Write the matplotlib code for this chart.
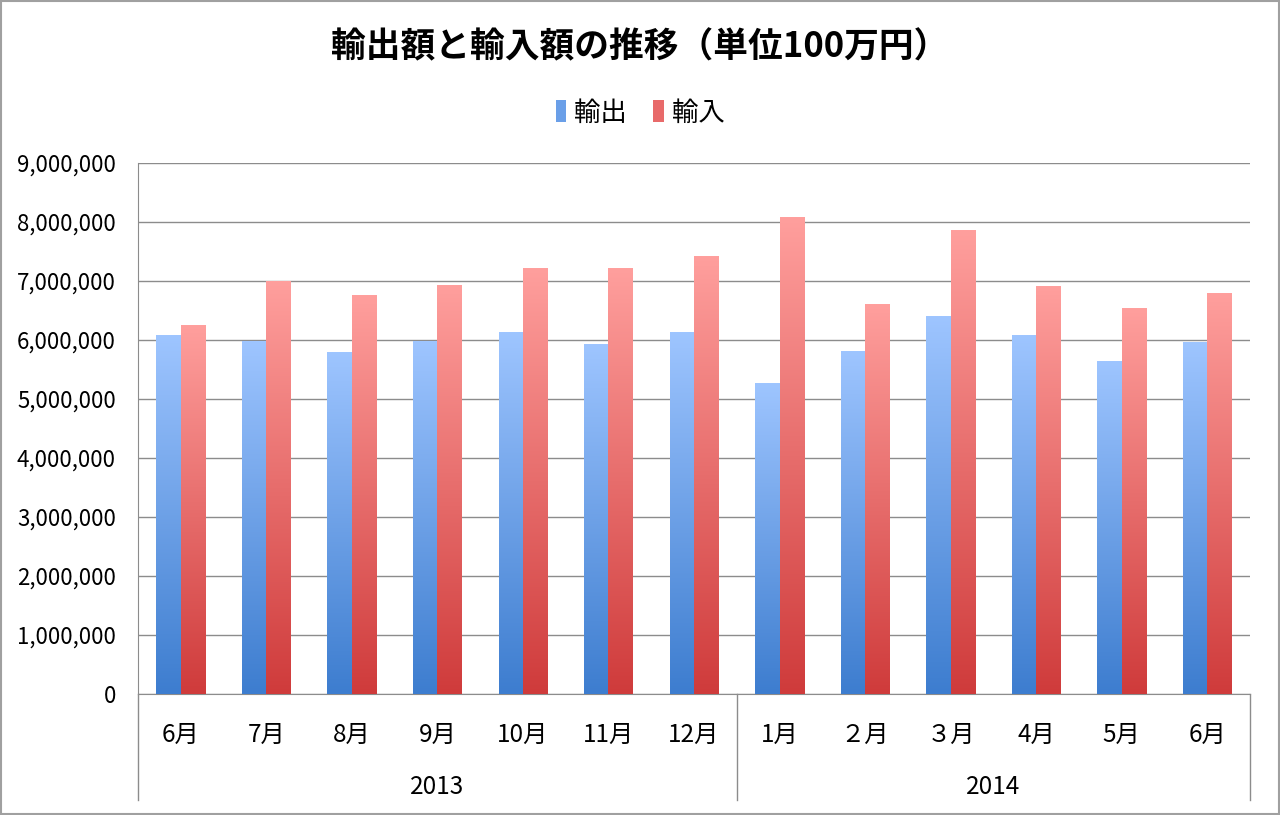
import matplotlib
matplotlib.use("Agg")
import matplotlib.pyplot as plt
import numpy as np
from matplotlib.colors import LinearSegmentedColormap
from matplotlib.patches import Patch, Rectangle
from matplotlib.lines import Line2D
from matplotlib.ticker import FuncFormatter

plt.rcParams['font.family'] = ['Noto Sans CJK JP', 'DejaVu Sans']

months = ['6月', '7月', '8月', '9月', '10月', '11月', '12月',
          '1月', '２月', '３月', '4月', '5月', '6月']
years = ['2013', '2014']
year_counts = [7, 6]
exports = [6070000, 5970000, 5780000, 5980000, 6120000, 5920000, 6120000,
           5270000, 5810000, 6390000, 6070000, 5630000, 5950000]
imports = [6250000, 7000000, 6760000, 6930000, 7220000, 7220000, 7420000,
           8070000, 6610000, 7850000, 6900000, 6540000, 6780000]
series_names = ['輸出', '輸入']

blue_cmap = LinearSegmentedColormap.from_list('b', ['#3D7DCF', '#9EC5FF'])
red_cmap = LinearSegmentedColormap.from_list('r', ['#CF3B3B', '#FF9F9D'])

fig = plt.figure(figsize=(12.8, 8.15), dpi=100)
ax = fig.add_axes([138/1280, 1-694/815, (1250-138)/1280, (694-163)/815])

x = np.arange(len(months))
w = 0.285
bars_e = ax.bar(x - w/2, exports, w, facecolor='none', edgecolor='none')
bars_i = ax.bar(x + w/2, imports, w, facecolor='none', edgecolor='none')

grad = np.linspace(0, 1, 256).reshape(-1, 1)
for bars, cmap in ((bars_e, blue_cmap), (bars_i, red_cmap)):
    for b in bars:
        x0 = b.get_x(); x1 = x0 + b.get_width(); h = b.get_height()
        ax.imshow(grad, extent=[x0, x1, 0, h], aspect='auto', cmap=cmap,
                  origin='lower', zorder=3, interpolation='bilinear')

ax.set_xlim(-0.5, len(months) - 0.5)
ax.set_ylim(0, 9000000)
ax.set_yticks(np.arange(0, 9000001, 1000000))
ax.yaxis.set_major_formatter(FuncFormatter(lambda v, p: f'{int(v):,}'))
ax.tick_params(axis='y', length=0, labelsize=16, pad=16)
ax.set_xticks(x)
ax.set_xticklabels(months)
ax.tick_params(axis='x', length=0, labelsize=17.5, pad=20)
ax.grid(axis='y', color='#8C8C8C', linewidth=1.0, zorder=0)
ax.set_axisbelow(True)
for s in ['top', 'right']:
    ax.spines[s].set_visible(False)
ax.spines['left'].set_color('#8C8C8C')
ax.spines['bottom'].set_color('#8C8C8C')

# hierarchical category axis
trans = ax.get_xaxis_transform()
bounds = [-0.5]
for c in year_counts:
    bounds.append(bounds[-1] + c)
for bx in bounds:
    ax.add_line(Line2D([bx, bx], [0, -106/531], transform=trans,
                       color='#8C8C8C', linewidth=1.0, clip_on=False))
start = -0.5
for yr, c in zip(years, year_counts):
    ax.text(start + c/2, -93/531, yr, transform=trans, ha='center',
            va='center', fontsize=17.5)
    start += c

fig.suptitle('輸出額と輸入額の推移（単位100万円）', y=1-47/815, fontsize=25,
             fontweight='bold', va='center')

handles = [Patch(facecolor='#6A9FE8', edgecolor='none'),
           Patch(facecolor='#E86A6A', edgecolor='none')]
fig.legend(handles, series_names, loc='center', bbox_to_anchor=(0.5, 1-113/815),
           ncol=2, frameon=False, fontsize=19, handlelength=0.4, handleheight=0.9,
           handletextpad=0.3, columnspacing=1.0)

fig.add_artist(Rectangle((0.0008, 0.0012), 0.9984, 0.9976, transform=fig.transFigure,
                         fill=False, edgecolor='#A0A0A0', linewidth=1.5))

fig.savefig('out.png', dpi=100)
